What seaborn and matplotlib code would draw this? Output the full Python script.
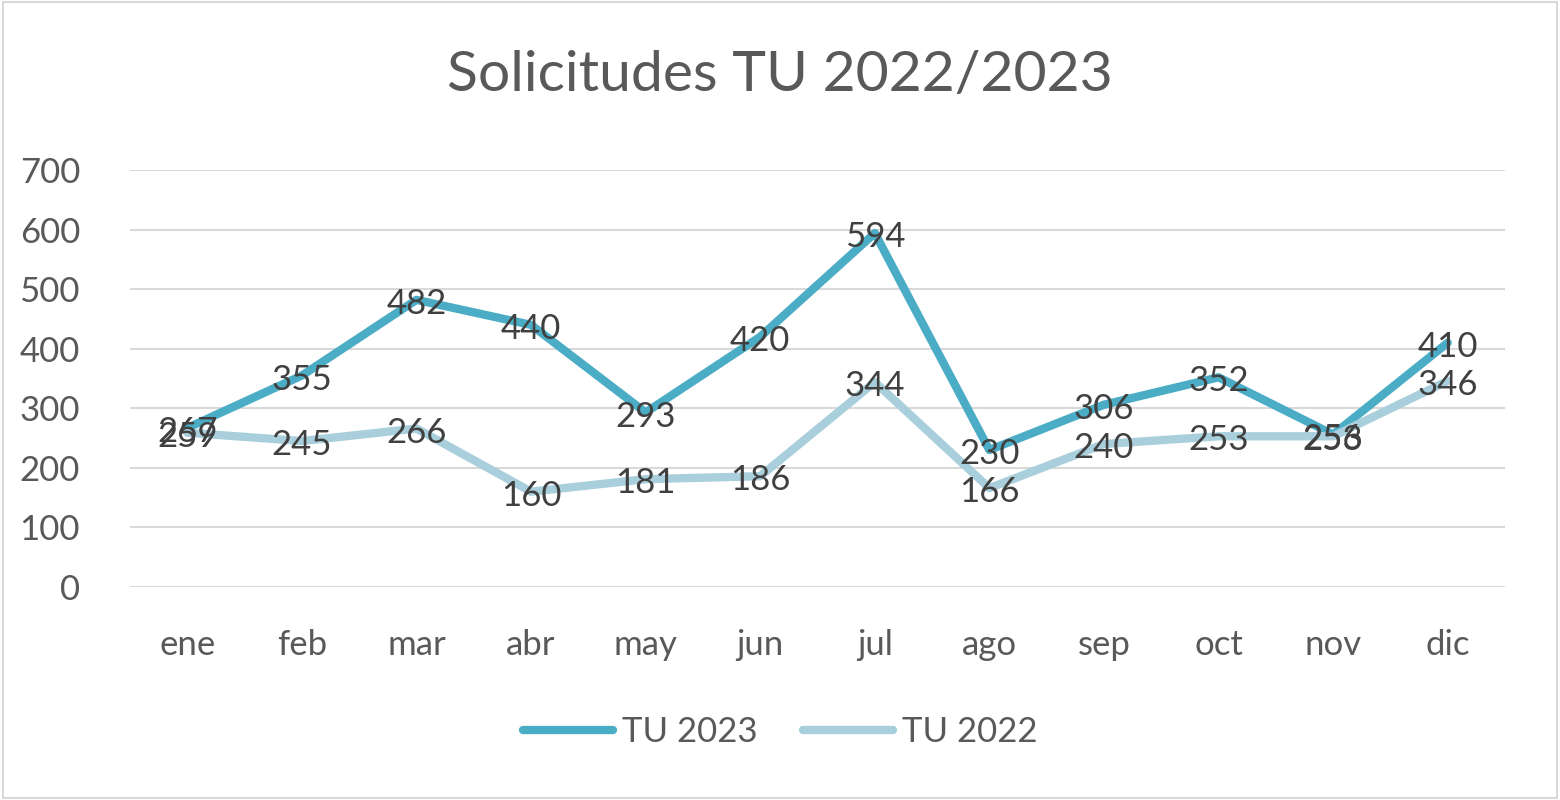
import matplotlib
matplotlib.use("Agg")
import matplotlib.pyplot as plt
import seaborn as sns
import pandas as pd
from matplotlib.patches import Rectangle
from matplotlib.lines import Line2D

months = ["ene", "feb", "mar", "abr", "may", "jun", "jul", "ago", "sep", "oct", "nov", "dic"]
tu2023 = [267, 355, 482, 440, 293, 420, 594, 230, 306, 352, 256, 410]
tu2022 = [259, 245, 266, 160, 181, 186, 344, 166, 240, 253, 253, 346]
series_names = ["TU 2023", "TU 2022"]
colors = ["#4BACC6", "#A9CFDC"]
yticks = [0, 100, 200, 300, 400, 500, 600, 700]

sns.set_theme(style="white")
plt.rcParams['font.family'] = ['Lato', 'DejaVu Sans']
txt = "#595959"

df = pd.DataFrame({
    "mes": months * 2,
    "idx": list(range(12)) * 2,
    "valor": tu2023 + tu2022,
    "serie": [series_names[0]] * 12 + [series_names[1]] * 12,
})

fig = plt.figure(figsize=(15.6, 8), dpi=100)
ax = fig.add_axes([130 / 1560, 1 - 587 / 800, 1375 / 1560, 417 / 800])

sns.lineplot(data=df, x="idx", y="valor", hue="serie", hue_order=series_names,
             palette=colors, linewidth=6, ax=ax, legend=False,
             solid_capstyle="round", solid_joinstyle="round", sort=False)

for vals in (tu2023, tu2022):
    for i, v in enumerate(vals):
        ax.annotate(str(v), (i, v), xytext=(0, -3), textcoords="offset points",
                    ha="center", va="center", fontsize=25, color="#404040")

ax.set_xlim(-0.5, 11.5)
ax.set_ylim(0, 700)
ax.set_yticks(yticks)
ax.set_yticklabels([str(t) for t in yticks], fontsize=25, color=txt)
ax.set_xticks(range(12))
ax.set_xticklabels(months, fontsize=25, color=txt)
ax.tick_params(axis="x", pad=30, length=0)
ax.tick_params(axis="y", pad=36, length=0)
ax.grid(axis="y", color="#D9D9D9", linewidth=1.5)
ax.set_axisbelow(True)
for s in ax.spines.values():
    s.set_visible(False)
ax.set_xlabel("")
ax.set_ylabel("")

fig.text(0.5, 1 - 75 / 800, "Solicitudes TU 2022/2023", ha="center", va="center",
         fontsize=41, color=txt)

handles = [Line2D([0], [0], color=c, linewidth=6, solid_capstyle="round") for c in colors]
fig.legend(handles, series_names, loc="center", bbox_to_anchor=(0.5, 1 - 732 / 800),
           ncol=2, frameon=False, fontsize=25, labelcolor=txt, handlelength=2.6,
           handletextpad=0.25, columnspacing=1.3)

fig.patches.append(Rectangle((0.002, 0.003), 0.996, 0.994, transform=fig.transFigure,
                             fill=False, edgecolor="#D9D9D9", linewidth=1.5))

fig.savefig("out.png", dpi=100)
